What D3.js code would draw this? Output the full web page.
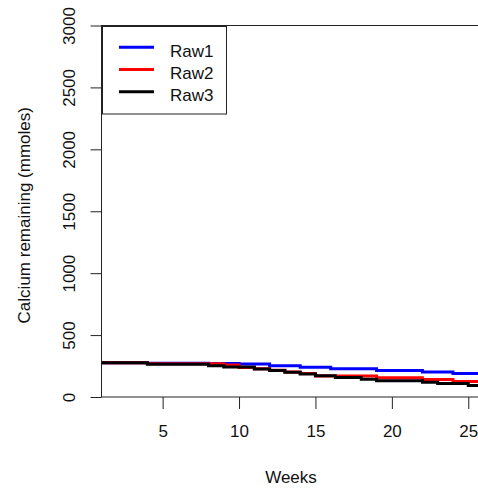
<!DOCTYPE html>
<html>
<head>
<meta charset="utf-8">
<script src="https://cdn.jsdelivr.net/npm/d3@7/dist/d3.min.js"></script>
<style>
  html, body { margin: 0; padding: 0; background: #fff; }
  svg { display: block; }
  text { font-family: "Liberation Sans", Arial, sans-serif; fill: #111; }
</style>
</head>
<body>
<svg id="chart" width="478" height="490"></svg>
<script>
// Calcium remaining over time for three raw series (step curves)
const raw1Weeks  = [1, 4, 8, 10, 12, 14, 16, 19, 22, 24, 26];
const raw1Values = [277, 273, 270, 266, 252, 241, 228, 214, 201, 189, 189];

const raw2Weeks  = [1, 4, 9, 10, 11, 12, 13, 14, 15, 19, 22, 24, 26];
const raw2Values = [277, 268, 259, 238, 228, 216, 202, 189, 170, 155, 142, 125, 125];

const raw3Weeks  = [1, 4, 8, 9, 11, 12, 13, 14, 15, 16.3, 18, 19, 22, 23, 25, 26];
const raw3Values = [277, 264, 252, 243, 226, 214, 200, 186, 172, 158, 144, 132, 119, 109, 93, 93];

const seriesNames  = ["Raw1", "Raw2", "Raw3"];
const seriesColors = ["#0000ff", "#ff0000", "#000000"];

const xTicks = [5, 10, 15, 20, 25];
const yTicks = [0, 500, 1000, 1500, 2000, 2500, 3000];

const xLabel = "Weeks";
const yLabel = "Calcium remaining (mmoles)";

const series = [
  { name: seriesNames[0], color: seriesColors[0], pts: raw1Weeks.map((w, i) => [w, raw1Values[i]]) },
  { name: seriesNames[1], color: seriesColors[1], pts: raw2Weeks.map((w, i) => [w, raw2Values[i]]) },
  { name: seriesNames[2], color: seriesColors[2], pts: raw3Weeks.map((w, i) => [w, raw3Values[i]]) }
];

const box = { left: 101.5, top: 25.5, right: 480.5, bottom: 397 };

const svg = d3.select("#chart");

const x = d3.scaleLinear().domain([1, 25.8]).range([box.left, box.right]);
const y = d3.scaleLinear().domain([0, 3000]).range([box.bottom, box.top]);

svg.append("defs").append("clipPath").attr("id", "plotClip")
  .append("rect")
  .attr("x", box.left).attr("y", box.top)
  .attr("width", box.right - box.left).attr("height", box.bottom - box.top);

// Step lines
const line = d3.line()
  .x(d => x(d[0]))
  .y(d => y(d[1]))
  .curve(d3.curveStepAfter);

const lines = svg.append("g").attr("clip-path", "url(#plotClip)");
series.forEach(s => {
  lines.append("path")
    .datum(s.pts)
    .attr("fill", "none")
    .attr("stroke", s.color)
    .attr("stroke-width", 3)
    .attr("d", line);
});

// Axes
const fontSize = 17;
const xAxis = d3.axisBottom(x).tickValues(xTicks).tickSize(12).tickPadding(16).tickFormat(d3.format("d"));
const gx = svg.append("g").attr("transform", `translate(0,${box.bottom})`).call(xAxis);
gx.select(".domain").remove();
gx.selectAll("line").attr("stroke", "#222");
gx.selectAll("text").attr("font-size", fontSize).style("font-family", "'Liberation Sans', Arial, sans-serif").attr("fill", "#111");

const yAxis = d3.axisLeft(y).tickValues(yTicks).tickSize(11).tickFormat(d3.format("d"));
const gy = svg.append("g").attr("transform", `translate(${box.left},0)`).call(yAxis);
gy.select(".domain").remove();
gy.selectAll("line").attr("stroke", "#222");
gy.selectAll("text")
  .attr("font-size", fontSize)
  .style("font-family", "'Liberation Sans', Arial, sans-serif")
  .attr("fill", "#111")
  .attr("x", null).attr("dy", null)
  .attr("text-anchor", "middle")
  .attr("transform", "translate(-26.5,0) rotate(-90)");

// Plot box
svg.append("rect")
  .attr("x", box.left).attr("y", box.top)
  .attr("width", box.right - box.left).attr("height", box.bottom - box.top)
  .attr("fill", "none").attr("stroke", "#222").attr("stroke-width", 1);

// Axis titles
svg.append("text")
  .attr("x", (box.left + box.right) / 2).attr("y", 482.5)
  .attr("text-anchor", "middle").attr("font-size", fontSize)
  .text(xLabel);

svg.append("text")
  .attr("transform", `translate(29.5,${(box.top + box.bottom) / 2 + 4}) rotate(-90)`)
  .attr("text-anchor", "middle").attr("font-size", fontSize)
  .text(yLabel);

// Legend
const legend = svg.append("g");
legend.append("rect")
  .attr("x", 102.5).attr("y", 26.5).attr("width", 124).attr("height", 87.5)
  .attr("fill", "#fff").attr("stroke", "#222").attr("stroke-width", 1);
series.forEach((s, i) => {
  const base = 56.7 + i * 22.2;
  legend.append("line")
    .attr("x1", 119).attr("x2", 154)
    .attr("y1", base - 9.4).attr("y2", base - 9.4)
    .attr("stroke", s.color).attr("stroke-width", 3);
  legend.append("text")
    .attr("x", 170).attr("y", base)
    .attr("font-size", fontSize)
    .text(s.name);
});
</script>
</body>
</html>
